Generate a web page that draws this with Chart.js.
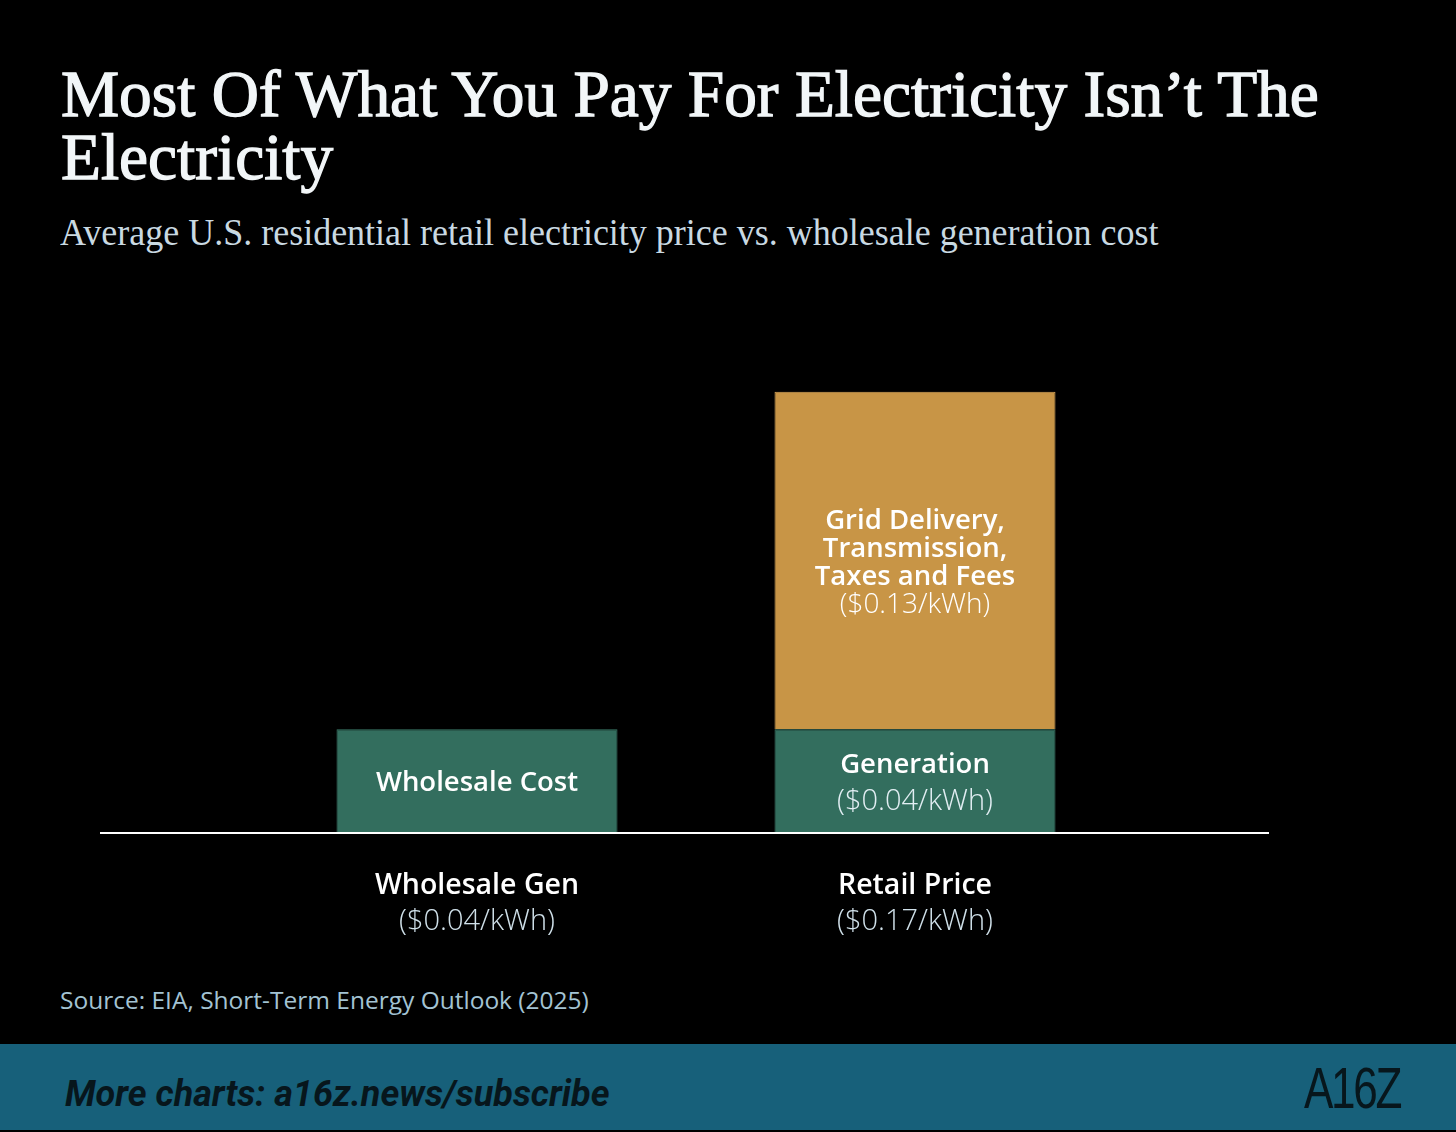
<!DOCTYPE html>
<html><head><meta charset="utf-8">
<script src="https://cdn.jsdelivr.net/npm/chart.js@4"></script>
<style>
html,body{margin:0;padding:0;background:#000;}
body{width:1456px;height:1132px;position:relative;overflow:hidden;font-family:"Open Sans",sans-serif;}
#title{position:absolute;left:61px;top:62px;color:#f2f6f8;font-family:"Liberation Serif",serif;font-size:66px;line-height:63px;white-space:nowrap;transform-origin:0 0;transform:scaleX(0.99);-webkit-text-stroke:1.3px #f2f6f8;}
#subtitle{position:absolute;left:60px;top:210px;color:#c9d9e2;font-family:"Liberation Serif",serif;font-size:38px;white-space:nowrap;transform-origin:0 0;transform:scaleX(0.947);}
#wrap{position:absolute;left:100px;top:300px;width:1169px;height:660px;}
#source{position:absolute;left:60px;top:983px;color:#a3c3d3;font-size:24.5px;white-space:nowrap;}
#footer{position:absolute;left:0;top:1044px;width:1456px;height:86px;background:#17607a;}
#more{position:absolute;left:65px;top:1073px;font-style:italic;font-weight:700;font-size:36px;color:#07161c;font-family:"Roboto",sans-serif;white-space:nowrap;}
#logo{position:absolute;left:1304px;top:1054px;font-family:"Liberation Sans",sans-serif;font-size:58px;color:#07161c;letter-spacing:-3px;transform-origin:0 0;transform:scaleX(0.76);}
</style></head>
<body>
<div id="title">Most Of What You Pay For Electricity Isn’t The<br>Electricity</div>
<div id="subtitle">Average U.S. residential retail electricity price vs. wholesale generation cost</div>
<div id="wrap"><canvas id="c"></canvas></div>
<div id="source">Source: EIA, Short-Term Energy Outlook (2025)</div>
<div id="footer"></div>
<div id="more">More charts: a16z.news/subscribe</div>
<div id="logo">A16Z</div>
<script>
const categories = ['Wholesale Gen', 'Retail Price'];
const categoryPrices = ['($0.04/kWh)', '($0.17/kWh)'];
const generationValues = [0.04, 0.04];
const gridValues = [0, 0.13];
const generationLabelBold = [['Wholesale Cost'], ['Generation']];
const generationLabelNote = ['', '($0.04/kWh)'];
const gridLabelBold = [[], ['Grid Delivery,', 'Transmission,', 'Taxes and Fees']];
const gridLabelNote = ['', '($0.13/kWh)'];

const GREEN = '#336e5e';
const GOLD = '#c89546';

const barLabels = {
  id: 'barLabels',
  afterDatasetsDraw(chart) {
    const ctx = chart.ctx;
    chart.data.datasets.forEach((ds, di) => {
      const meta = chart.getDatasetMeta(di);
      meta.data.forEach((el, i) => {
        const bold = ds.labelBold[i];
        const note = ds.labelNote[i];
        const lines = bold.map(t => ({t, f: ds.boldFont, c: '#ffffff'}));
        if (note) lines.push({t: note, f: ds.noteFont, c: ds.noteColor});
        if (!lines.length) return;
        const cy = (el.y + el.base) / 2 + 2.5;
        const lh = ds.labelLineHeight;
        const y0 = cy - (lines.length - 1) * lh / 2;
        ctx.save();
        ctx.textAlign = 'center';
        ctx.textBaseline = 'middle';
        lines.forEach((ln, k) => {
          ctx.font = ln.f;
          ctx.fillStyle = ln.c;
          ctx.fillText(ln.t, el.x, y0 + k * lh);
        });
        ctx.restore();
      });
    });
  }
};

const axisDecor = {
  id: 'axisDecor',
  afterDraw(chart) {
    const ctx = chart.ctx;
    const y = chart.scales.y.getPixelForValue(0);
    ctx.save();
    ctx.strokeStyle = '#ffffff';
    ctx.lineWidth = 2;
    ctx.beginPath();
    ctx.moveTo(0, y);
    ctx.lineTo(chart.width, y);
    ctx.stroke();
    ctx.textAlign = 'center';
    ctx.textBaseline = 'middle';
    categories.forEach((cat, i) => {
      const x = chart.scales.x.getPixelForValue(i);
      ctx.font = '600 28.5px "Open Sans"';
      ctx.fillStyle = '#ffffff';
      ctx.fillText(cat, x, y + 53);
      ctx.font = '300 29px "Open Sans"';
      ctx.fillStyle = '#d0e1ea';
      ctx.fillText(categoryPrices[i], x, y + 89);
    });
    ctx.restore();
  }
};

new Chart(document.getElementById('c'), {
  type: 'bar',
  data: {
    labels: categories,
    datasets: [
      {
        label: 'Generation',
        data: generationValues,
        backgroundColor: GREEN,
        borderColor: '#3c7a69',
        borderWidth: 1,
        labelBold: generationLabelBold,
        labelNote: generationLabelNote,
        boldFont: '600 27.5px "Open Sans"',
        noteFont: '300 29px "Open Sans"',
        noteColor: '#e2eef3',
        labelLineHeight: 36
      },
      {
        label: 'Grid Delivery, Transmission, Taxes and Fees',
        data: gridValues,
        backgroundColor: GOLD,
        borderColor: '#d8a55a',
        borderWidth: 1,
        labelBold: gridLabelBold,
        labelNote: gridLabelNote,
        boldFont: '600 27.5px "Open Sans"',
        noteFont: '300 28px "Open Sans"',
        noteColor: '#ffffff',
        labelLineHeight: 28
      }
    ]
  },
  options: {
    responsive: true,
    maintainAspectRatio: false,
    animation: false,
    layout: { padding: { left: 158, right: 135, top: 14, bottom: 127 } },
    datasets: { bar: { categoryPercentage: 1, barPercentage: 0.6416 } },
    scales: {
      x: { stacked: true, display: false },
      y: { stacked: true, display: false, min: 0, max: 0.2 }
    },
    plugins: { legend: { display: false }, tooltip: { enabled: false } }
  },
  plugins: [barLabels, axisDecor]
});
</script>
</body></html>
